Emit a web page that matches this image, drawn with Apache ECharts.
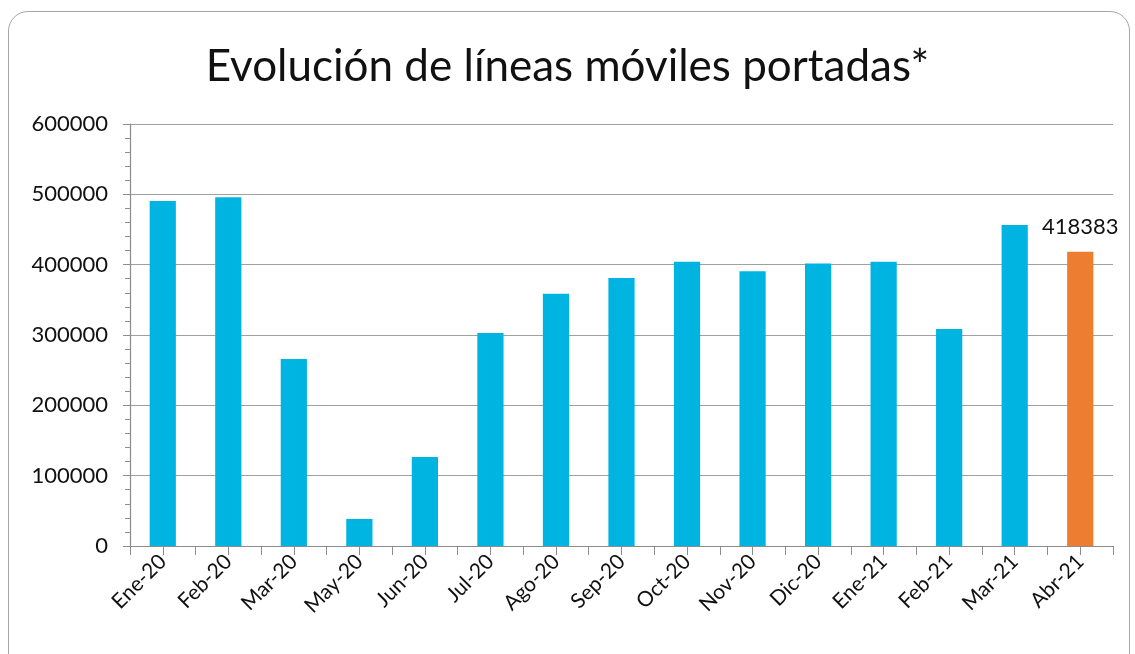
<!DOCTYPE html>
<html>
<head>
<meta charset="utf-8">
<script src="https://cdn.jsdelivr.net/npm/echarts@6/dist/echarts.min.js"></script>
<style>
html,body{margin:0;padding:0;background:#fff;overflow:hidden;}
#frame{position:absolute;left:8px;top:11px;width:1122px;height:680px;border:1.5px solid #a6a6a6;border-radius:20px;box-sizing:border-box;}
#chart{position:absolute;left:0;top:0;width:1135px;height:654px;}
</style>
</head>
<body>
<div id="frame"></div>
<div id="chart"></div>
<script>
const categories = ["Ene-20","Feb-20","Mar-20","May-20","Jun-20","Jul-20","Ago-20","Sep-20","Oct-20","Nov-20","Dic-20","Ene-21","Feb-21","Mar-21","Abr-21"];
const values = [490500, 496000, 266000, 38500, 126500, 303000, 358500, 381000, 404000, 390500, 401500, 404000, 308500, 456500, 418383];
const highlightIndex = 14;
const yTicks = [0, 100000, 200000, 300000, 400000, 500000, 600000];

const FONT = 'Lato, "Open Sans", sans-serif';
const chart = echarts.init(document.getElementById('chart'), null, {renderer: 'canvas'});
chart.setOption({
  animation: false,
  title: {
    text: 'Evolución de líneas móviles portadas*',
    left: 'center', top: 40,
    textStyle: {fontFamily: FONT, fontSize: 44, fontWeight: 'normal', color: '#111'}
  },
  grid: {left: 130, right: 22, top: 124, bottom: 108, containLabel: false},
  xAxis: [{
    type: 'category', data: categories,
    axisLine: {lineStyle: {color: '#8c8c8c', width: 1.2}},
    axisTick: {show: true, length: 9, lineStyle: {color: '#8c8c8c'}},
    axisLabel: {rotate: 45, fontFamily: FONT, fontSize: 21, color: '#111', margin: 12, interval: 0}
  }, {
    type: 'category', data: categories, position: 'bottom',
    axisLine: {show: false},
    axisTick: {show: true, alignWithLabel: true, length: 9, lineStyle: {color: '#8c8c8c'}},
    axisLabel: {show: false}
  }],
  yAxis: {
    type: 'value', min: yTicks[0], max: yTicks[yTicks.length-1], interval: 100000,
    axisLine: {show: true, lineStyle: {color: '#8c8c8c', width: 1.2}},
    axisTick: {show: true, length: 7, lineStyle: {color: '#8c8c8c'}},
    minorTick: {show: true, splitNumber: 5, length: 5, lineStyle: {color: '#8c8c8c'}},
    splitLine: {lineStyle: {color: '#a0a0a0', width: 1.2}},
    axisLabel: {fontFamily: FONT, fontSize: 22, color: '#111', margin: 22, formatter: v => String(v)}
  },
  series: [{
    type: 'bar', xAxisIndex: 0,
    barWidth: '40%',
    data: values.map((v, i) => ({
      value: v,
      itemStyle: {color: i === highlightIndex ? '#ED7D31' : '#00B4E2'},
      label: i === highlightIndex ? {show: true, position: 'top', distance: 14, fontFamily: FONT, fontSize: 22, color: '#111'} : {show: false}
    }))
  }]
});
</script>
</body>
</html>
